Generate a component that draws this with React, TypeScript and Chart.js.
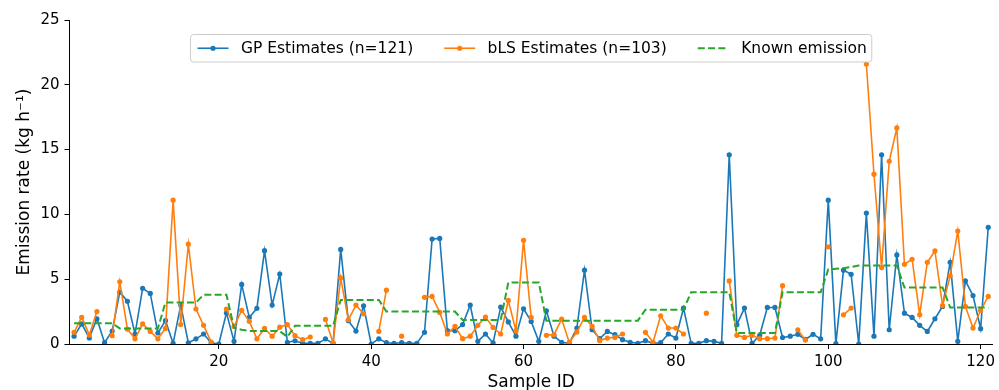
import { useEffect, useRef } from "react";
import { Chart, registerables } from "chart.js";

Chart.register(...registerables);

const SAMPLE_IDS = [
  1, 2, 3, 4, 5, 6, 7, 8, 9, 10, 11, 12, 13, 14, 15, 16, 17, 18, 19, 20,
  21, 22, 23, 24, 25, 26, 27, 28, 29, 30, 31, 32, 33, 34, 35, 36, 37, 38, 39, 40,
  41, 42, 43, 44, 45, 46, 47, 48, 49, 50, 51, 52, 53, 54, 55, 56, 57, 58, 59, 60,
  61, 62, 63, 64, 65, 66, 67, 68, 69, 70, 71, 72, 73, 74, 75, 76, 77, 78, 79, 80,
  81, 82, 83, 84, 85, 86, 87, 88, 89, 90, 91, 92, 93, 94, 95, 96, 97, 98, 99, 100,
  101, 102, 103, 104, 105, 106, 107, 108, 109, 110, 111, 112, 113, 114, 115, 116, 117, 118, 119, 120,
  121,
];

const GP_ESTIMATES = [
  0.6, 1.55, 0.47, 1.95, 0.1, 1.0, 4.0, 3.3, 0.77, 4.3,
  3.9, 0.85, 1.8, 0.05, 3.0, 0.08, 0.4, 0.77, 0.1, 0.0,
  2.4, 0.2, 4.6, 2.05, 2.75, 7.2, 3.0, 5.4, 0.13, 0.25,
  0.05, 0.05, 0.05, 0.4, 0.05, 7.3, 1.8, 1.0, 2.95, 0.0,
  0.4, 0.1, 0.05, 0.1, 0.05, 0.05, 0.9, 8.1, 8.15, 1.03,
  1.03, 1.5, 3.0, 0.2, 0.77, 0.08, 2.85, 1.7, 0.6, 2.72,
  1.74, 0.2, 2.56, 0.6, 0.13, 0.05, 1.23, 5.7, 1.1, 0.41,
  0.97, 0.72, 0.33, 0.13, 0.05, 0.26, 0.05, 0.1, 0.77, 0.46,
  2.77, 0.05, 0.05, 0.26, 0.2, 0.05, 14.6, 1.49, 2.77, 0.05,
  0.67, 2.82, 2.82, 0.5, 0.6, 0.75, 0.35, 0.75, 0.4, 11.1,
  0.03, 5.7, 5.38, 0.0, 10.1, 0.6, 14.6, 1.1, 6.87, 2.38,
  2.05, 1.44, 0.97, 1.95, 2.9, 6.3, 0.2, 4.87, 3.74, 1.18,
  9.0,
];

const BLS_ESTIMATES = [
  0.9, 2.05, 0.7, 2.5, null, 0.64, 4.8, 1.15, 0.4, 1.55,
  0.97, 0.4, 1.2, 11.1, 1.5, 7.7, 2.7, 1.44, 0.15, null,
  2.7, 1.35, 2.6, 1.75, 0.4, 1.2, 0.6, 1.3, 1.5, 0.64,
  0.33, 0.54, null, 1.9, 0.08, 5.1, 1.87, 3.0, 2.33, null,
  0.97, 4.15, null, 0.6, null, null, 3.6, 3.67, 2.44, 0.77,
  1.36, 0.41, 0.6, 1.44, 2.08, 1.28, 0.77, 3.36, 1.03, 8.0,
  2.05, null, 0.67, 0.72, 1.92, 0.13, 0.92, 2.05, 1.36, 0.26,
  0.46, 0.51, 0.77, null, null, 0.9, 0.13, 2.18, 1.23, 1.23,
  0.77, null, null, 2.38, null, null, 4.87, 0.67, 0.51, 0.67,
  0.41, 0.41, 0.46, 4.5, null, 1.1, 0.3, null, null, 7.5,
  null, 2.25, 2.77, null, 21.6, 13.1, 5.9, 14.1, 16.67, 6.15,
  6.54, 2.26, 6.3, 7.18, 2.97, 5.26, 8.72, 2.9, 1.23, 2.6,
  3.67,
];

const KNOWN_EMISSION = [
  1.6, 1.6, 1.6, 1.6, 1.6, 1.6, 1.2, 1.2, 1.2, 1.2,
  1.2, 1.2, 3.2, 3.2, 3.2, 3.2, 3.2, 3.8, 3.8, 3.8,
  3.8, 1.25, 1.1, 1.0, 1.0, 1.0, 1.0, 1.0, 0.55, 1.4,
  1.4, 1.4, 1.4, 1.4, 1.4, 3.4, 3.4, 3.4, 3.4, 3.4,
  3.4, 2.5, 2.5, 2.5, 2.5, 2.5, 2.5, 2.5, 2.5, 2.5,
  2.5, 1.85, 1.85, 1.85, 1.85, 1.85, 1.85, 4.74, 4.74, 4.74,
  4.74, 4.74, 1.8, 1.8, 1.8, 1.8, 1.8, 1.8, 1.8, 1.8,
  1.8, 1.8, 1.8, 1.8, 1.8, 2.64, 2.64, 2.64, 2.64, 2.64,
  2.64, 4.0, 4.0, 4.0, 4.0, 4.0, 4.0, 0.85, 0.85, 0.85,
  0.85, 0.85, 0.85, 4.0, 4.0, 4.0, 4.0, 4.0, 4.0, 5.75,
  5.8, 5.85, 5.95, 6.05, 6.05, 6.05, 6.05, 6.05, 6.05, 4.36,
  4.36, 4.36, 4.36, 4.36, 4.36, 2.82, 2.82, 2.82, 2.82, 2.82,
  2.82,
];

const X_TICKS = [20, 40, 60, 80, 100, 120];
const Y_TICKS = [0, 5, 10, 15, 20, 25];
const SERIES_LABELS = ["GP Estimates (n=121)", "bLS Estimates (n=103)", "Known emission"];
const X_TITLE = "Sample ID";
const Y_TITLE = "Emission rate (kg h\u207B\u00B9)";

const BLUE = "#1a78b8";
const ORANGE = "#ff7f0e";
const GREEN = "#27a62a";
const FONT = "DejaVu Sans";

const toPoints = (vals: (number | null)[]) =>
  SAMPLE_IDS.map((id, i) => ({ x: id, y: vals[i] }));

const boxLegend = {
  id: "boxLegend",
  afterDraw(chart: any) {
    const { ctx, chartArea } = chart;
    const fs = 15.5;
    ctx.save();
    ctx.font = `${fs}px "${FONT}"`;
    const items = chart.data.datasets.map((ds: any) => ({
      label: ds.label,
      color: ds.borderColor,
      dash: ds.borderDash || [],
      point: ds.pointRadius > 0,
      width: ds.borderWidth,
    }));
    const handle = 2 * fs;
    const hpad = 0.8 * fs;
    const col = 2 * fs;
    const padL = 7;
    const padR = 5;
    const widths = items.map((it: any) => ctx.measureText(it.label).width);
    let total = padL + padR + col * (items.length - 1);
    widths.forEach((w: number) => (total += handle + hpad + w));
    const cx = (chartArea.left + chartArea.right) / 2;
    const left = cx - total / 2;
    const top = chartArea.top + 14.5;
    const h = 27.5;
    const r = 3;
    ctx.beginPath();
    ctx.moveTo(left + r, top);
    ctx.lineTo(left + total - r, top);
    ctx.quadraticCurveTo(left + total, top, left + total, top + r);
    ctx.lineTo(left + total, top + h - r);
    ctx.quadraticCurveTo(left + total, top + h, left + total - r, top + h);
    ctx.lineTo(left + r, top + h);
    ctx.quadraticCurveTo(left, top + h, left, top + h - r);
    ctx.lineTo(left, top + r);
    ctx.quadraticCurveTo(left, top, left + r, top);
    ctx.closePath();
    ctx.fillStyle = "rgba(255,255,255,0.8)";
    ctx.fill();
    ctx.strokeStyle = "#cccccc";
    ctx.lineWidth = 1;
    ctx.stroke();
    const cy = top + h / 2;
    let x = left + padL;
    items.forEach((it: any, i: number) => {
      ctx.beginPath();
      ctx.setLineDash(it.dash);
      ctx.strokeStyle = it.color;
      ctx.lineWidth = it.width;
      ctx.moveTo(x, cy);
      ctx.lineTo(x + handle, cy);
      ctx.stroke();
      ctx.setLineDash([]);
      if (it.point) {
        ctx.beginPath();
        ctx.fillStyle = it.color;
        ctx.arc(x + handle / 2, cy, 2.6, 0, Math.PI * 2);
        ctx.fill();
      }
      x += handle + hpad;
      ctx.fillStyle = "#000";
      ctx.textBaseline = "middle";
      ctx.textAlign = "left";
      ctx.fillText(it.label, x, cy + 1);
      x += widths[i] + col;
    });
    ctx.restore();
  },
};

export default function App() {
  const canvasRef = useRef<HTMLCanvasElement | null>(null);

  useEffect(() => {
    if (!canvasRef.current) return;
    const tickFont = { family: FONT, size: 15 };
    const titleFont = { family: FONT, size: 17 };
    const chart = new Chart(canvasRef.current, {
      type: "line",
      data: {
        datasets: [
          {
            label: SERIES_LABELS[0],
            data: toPoints(GP_ESTIMATES),
            borderColor: BLUE,
            backgroundColor: BLUE,
            borderWidth: 1.6,
            pointRadius: 2.6,
            pointBorderWidth: 0,
            pointBackgroundColor: BLUE,
            tension: 0,
            order: 2,
          },
          {
            label: SERIES_LABELS[1],
            data: toPoints(BLS_ESTIMATES),
            borderColor: ORANGE,
            backgroundColor: ORANGE,
            borderWidth: 1.6,
            pointRadius: 2.6,
            pointBorderWidth: 0,
            pointBackgroundColor: ORANGE,
            tension: 0,
            spanGaps: false,
            order: 1,
          },
          {
            label: SERIES_LABELS[2],
            data: toPoints(KNOWN_EMISSION),
            borderColor: GREEN,
            backgroundColor: GREEN,
            borderWidth: 2,
            borderDash: [7, 3.3],
            pointRadius: 0,
            tension: 0,
            order: 0,
          },
        ],
      },
      options: {
        responsive: false,
        animation: false,
        events: [],
        layout: { padding: { left: 0, right: 3.5, top: 20, bottom: 0 } },
        plugins: { legend: { display: false }, tooltip: { enabled: false } },
        scales: {
          x: {
            type: "linear",
            min: 0.4,
            max: 121.6,
            afterBuildTicks: (s: any) => {
              s.ticks = X_TICKS.map((v) => ({ value: v }));
            },
            afterFit: (s: any) => {
              s.height = 46;
            },
            grid: { drawOnChartArea: false, drawTicks: true, tickLength: 5, color: "#000", lineWidth: 1 },
            border: { display: true, color: "#000", width: 1 },
            ticks: { color: "#000", font: tickFont, padding: 4, maxRotation: 0, autoSkip: false },
            title: { display: true, text: X_TITLE, color: "#000", font: titleFont, padding: { top: 0, bottom: -3 } },
          },
          y: {
            type: "linear",
            min: 0,
            max: 25,
            afterBuildTicks: (s: any) => {
              s.ticks = Y_TICKS.map((v) => ({ value: v }));
            },
            afterFit: (s: any) => {
              s.width = 69.5;
            },
            grid: { drawOnChartArea: false, drawTicks: true, tickLength: 5, color: "#000", lineWidth: 1 },
            border: { display: true, color: "#000", width: 1 },
            ticks: { color: "#000", font: tickFont, padding: 5 },
            title: { display: true, text: Y_TITLE, color: "#000", font: titleFont, padding: { top: 14, bottom: 0 } },
          },
        },
      },
      plugins: [boxLegend],
    } as any);
    return () => chart.destroy();
  }, []);

  return (
    <div style={{ position: "absolute", left: 0, top: 0, width: 999, height: 390, background: "#fff" }}>
      <canvas ref={canvasRef} width={999} height={390} style={{ display: "block" }} />
    </div>
  );
}
